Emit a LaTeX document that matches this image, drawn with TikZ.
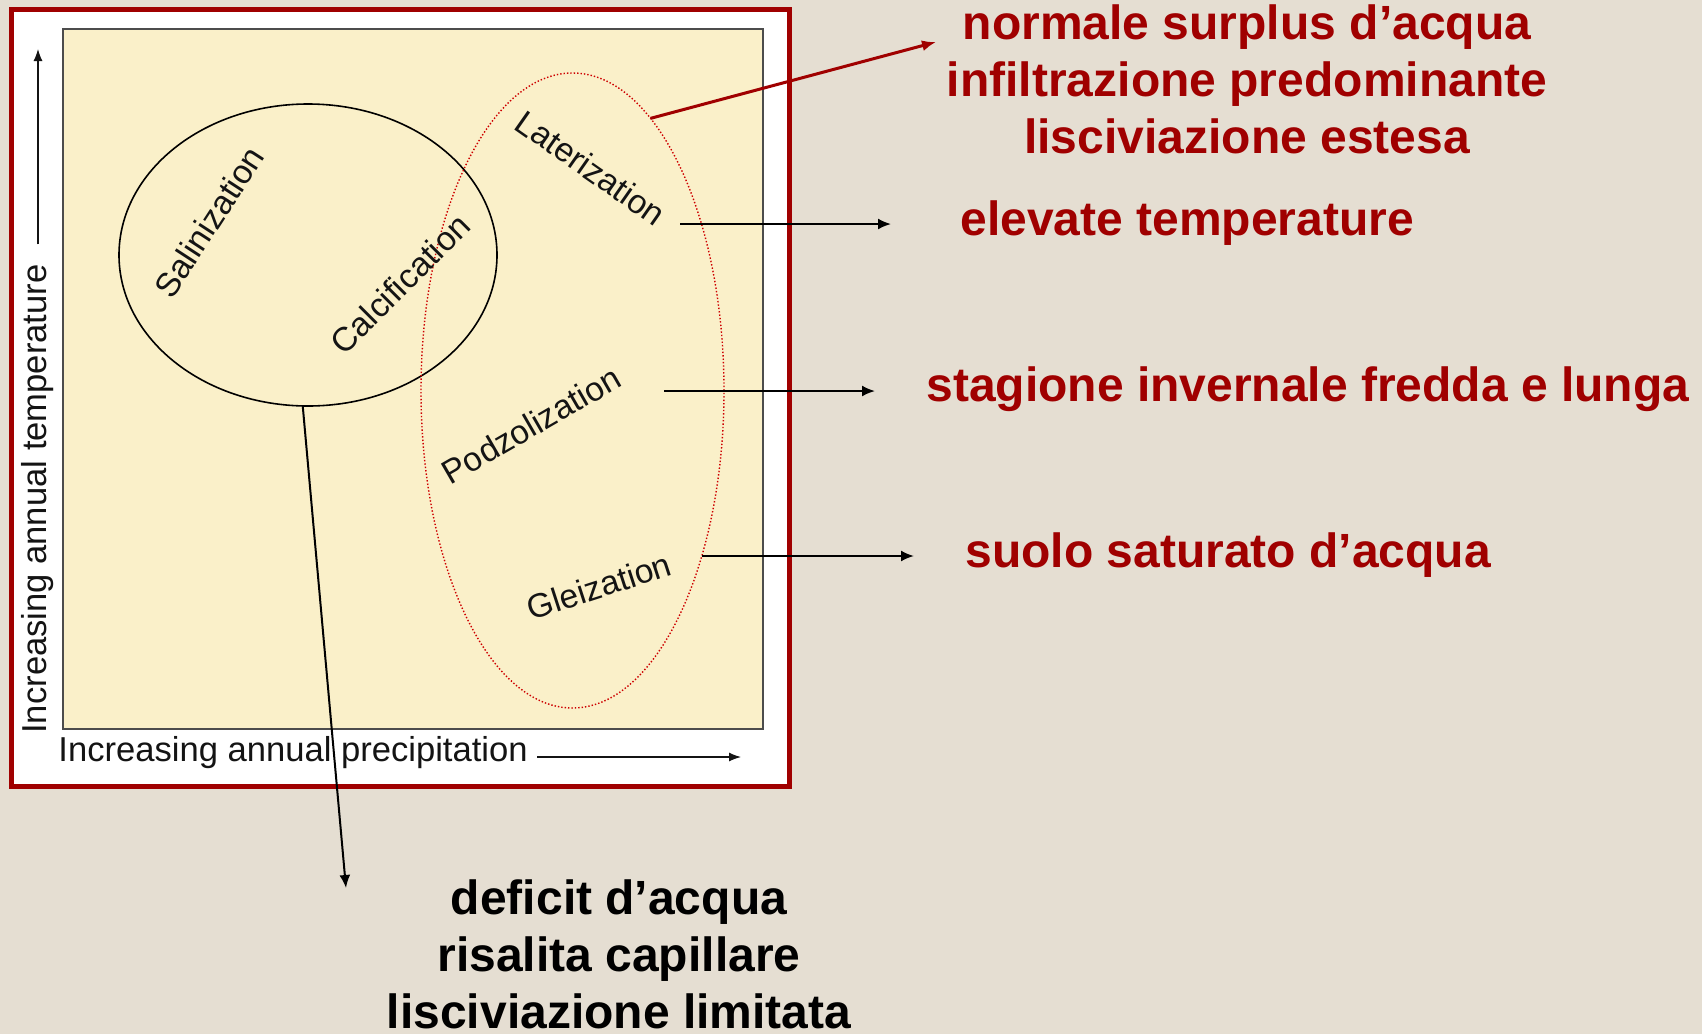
\documentclass[tikz,border=0pt]{standalone}
\usepackage{fontspec}
\setmainfont{Liberation Sans}
\usetikzlibrary{shapes.geometric,arrows.meta}
\definecolor{bgcol}{RGB}{229,222,210}
\definecolor{framered}{RGB}{160,0,0}
\definecolor{txtred}{RGB}{160,0,0}
\definecolor{plotfill}{RGB}{250,240,201}
\definecolor{dotred}{RGB}{205,0,0}
\definecolor{inkgray}{RGB}{20,20,20}
\begin{document}
\begin{tikzpicture}[x=0.5pt,y=-0.5pt,
  proclab/.style={font=\fontsize{16.8pt}{19pt}\selectfont, text=inkgray, inner sep=0pt},
  axlab/.style={font=\fontsize{17.3pt}{20pt}\selectfont, text=inkgray, inner sep=0pt},
  redtxt/.style={font=\fontsize{24pt}{28.5pt}\selectfont\bfseries, text=txtred, align=center, inner sep=0pt},
  blktxt/.style={font=\fontsize{24pt}{28.5pt}\selectfont\bfseries, text=black, align=center, inner sep=0pt},
  blkarr/.style={draw=black, line width=1pt, -{Latex[length=6.5pt,width=5.5pt]}},
  redarr/.style={draw=framered, line width=1.5pt, -{Latex[length=7pt,width=5.5pt]}},
  axarr/.style={draw=inkgray, line width=0.6pt, -{Latex[length=6pt,width=4.5pt]}},
  zone/.style={ellipse, inner sep=0pt, outer sep=0pt}
]
\useasboundingbox (0,0) rectangle (1702,1034);
\fill[bgcol] (0,0) rectangle (1702,1034);
% frame and plot area
\draw[framered, line width=2.5pt, fill=white] (11.5,9.5) rectangle (789.5,786.5);
\draw[draw=black!70, line width=1pt, fill=plotfill] (63,29) rectangle (763,729);
% zones
\node[zone, draw=black, line width=0.8pt, minimum width=189pt, minimum height=151pt] (circ) at (308,255) {};
\node[zone, draw=dotred, densely dotted, line width=0.7pt, minimum width=151.5pt, minimum height=317.5pt] (wet) at (572.5,390.5) {};
% process labels
\node[proclab, rotate=57] (sal) at (209,222) {Salinization};
\node[proclab, rotate=45] (calc) at (400,284) {Calcification};
\node[proclab, rotate=-35] (lat) at (591,168) {Laterization};
\node[proclab, rotate=30] (pod) at (531,425) {Podzolization};
\node[proclab, rotate=18] (glei) at (599,586) {Gleization};
% axes
\node[axlab, rotate=90, outer sep=10pt] (ylab) at (38,499) {Increasing annual temperature};
\coordinate (ytip) at (38,49);
\draw[axarr] (ylab.east) -- (ytip);
\node[axlab, anchor=base west] (xlab) at (58,761) {Increasing annual precipitation};
\coordinate (xstart) at (537,757);
\coordinate (xtip) at (741,757);
\draw[axarr] (xstart) -- (xtip);
% explanation texts
\node[redtxt, anchor=base] (wetnote) at (1247,153) {normale surplus d’acqua\\infiltrazione predominante\\lisciviazione estesa};
\node[redtxt, anchor=base west] (hot) at (960,235) {elevate temperature};
\node[redtxt, anchor=base west] (cold) at (926,401) {stagione invernale fredda e lunga};
\node[redtxt, anchor=base west] (sat) at (965,567) {suolo saturato d’acqua};
\node[blktxt, anchor=base] (dry) at (619,1028) {deficit d’acqua\\risalita capillare\\lisciviazione limitata};
% connectors
\coordinate (wettip) at (936,42);
\draw[redarr] (wet.74) -- (wettip);
\coordinate (latstart) at (680,224);
\coordinate (lattip) at (891,224);
\draw[blkarr] (latstart) -- (lattip);
\coordinate (podstart) at (664,391);
\coordinate (podtip) at (875,391);
\draw[blkarr] (podstart) -- (podtip);
\coordinate (gleitip) at (914,557);
\draw[blkarr] (wet.-52) -- (wet.-52 -| gleitip);
\coordinate (drytip) at (346,888);
\draw[blkarr] (circ.268) -- (drytip);
\end{tikzpicture}
\end{document}
